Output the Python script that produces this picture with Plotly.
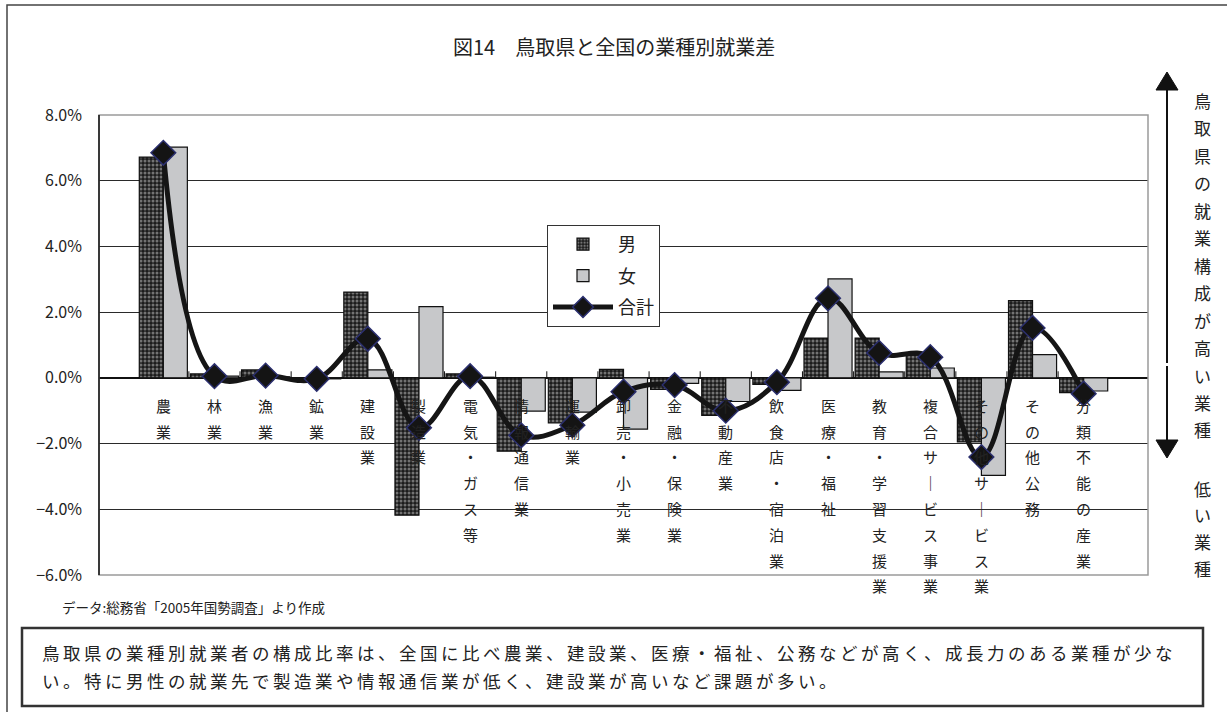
import plotly.graph_objects as go

# ---- data ---------------------------------------------------------------
industries = [
    "農業", "林業", "漁業", "鉱業", "建設業", "製造業", "電気・ガス等",
    "情報通信業", "運輸業", "卸売・小売業", "金融・保険業", "不動産業",
    "飲食店・宿泊業", "医療・福祉", "教育・学習支援業", "複合サービス事業",
    "その他サービス業", "その他公務", "分類不能の産業",
]
male = [6.72, 0.12, 0.24, -0.02, 2.61, -4.18, 0.12, -2.23, -1.37, 0.26,
        -0.35, -1.14, -0.20, 1.21, 1.21, 0.70, -1.95, 2.35, -0.45]
female = [7.02, 0.05, 0.03, -0.03, 0.24, 2.17, 0.02, -1.01, -1.04, -1.56,
          -0.17, -0.72, -0.38, 3.01, 0.18, 0.30, -2.97, 0.71, -0.40]
total = [6.85, 0.05, 0.07, -0.03, 1.19, -1.52, 0.05, -1.75, -1.44, -0.42,
         -0.22, -1.00, -0.13, 2.42, 0.76, 0.63, -2.41, 1.52, -0.48]

y_ticks = [-6, -4, -2, 0, 2, 4, 6, 8]
y_tick_labels = [f"{v:.1f}%".replace("-", "\u2212") for v in y_ticks]

title_text = "図14　鳥取県と全国の業種別就業差"
side_high = "鳥取県の就業構成が高い業種"
side_low = "低い業種"
source_text = "データ:総務省「2005年国勢調査」より作成"
note_lines = [
    "鳥取県の業種別就業者の構成比率は、全国に比べ農業、建設業、医療・福祉、公務などが高く、成長力のある業種が少な",
    "い。特に男性の就業先で製造業や情報通信業が低く、建設業が高いなど課題が多い。",
]

# ---- page geometry (pixels) ----------------------------------------------
W, H = 1227, 712
PL, PR, PT, PB = 99, 1148, 115, 575
FONT = "Noto Sans CJK JP"
THIN = "\u2009"


def fx(x):
    return (x - PL) / (PR - PL)


def fy(y):
    return (PB - y) / (PB - PT)


def spaced(s):
    # widen the character pitch of a line of text
    return THIN.join(s)


fig = go.Figure()

fig.add_trace(go.Bar(
    name="男", x=industries, y=male, legendgroup="m",
    marker=dict(
        color="#1c1c1c",
        line=dict(color="#111111", width=1.2),
        pattern=dict(shape=".", fgcolor="#c9c9c9", bgcolor="#1c1c1c",
                     size=4, solidity=0.45),
    ),
))
fig.add_trace(go.Bar(
    name="女", x=industries, y=female, legendgroup="f",
    marker=dict(color="#c7c8ca", line=dict(color="#111111", width=1.2)),
))
fig.add_trace(go.Scatter(
    name="合計", x=industries, y=total, mode="lines+markers", legendgroup="t",
    line=dict(color="#151515", width=5, shape="spline", smoothing=1.1),
    marker=dict(symbol="diamond", size=19, color="#141414",
                line=dict(color="#2b2f6e", width=1.5)),
))

annotations = []
shapes = []

# vertical category labels, one glyph per row under the zero line
for cat in industries:
    glyphs = list(cat.replace("ー", "｜"))
    for j, ch in enumerate(glyphs):
        annotations.append(dict(
            x=cat, y=0, xref="x", yref="y", text=ch, showarrow=False,
            yshift=-(27.5 + 25.8 * j), yanchor="middle", xanchor="center",
            font=dict(family=FONT, size=15, color="#222222"),
        ))

# small tick marks between categories on the zero line
for k in range(len(industries) - 1):
    shapes.append(dict(type="line", xref="x", yref="y",
                       x0=k + 0.5, x1=k + 0.5, y0=0, y1=0.2,
                       line=dict(color="#111111", width=1)))

# plot area frame (grey) drawn above the grid
shapes.append(dict(type="rect", xref="paper", yref="paper", x0=0, x1=1, y0=0, y1=1,
                   line=dict(color="#9a9a9a", width=1.5), layer="above"))
shapes.append(dict(type="line", xref="paper", yref="paper", x0=0, x1=0, y0=0, y1=1,
                   line=dict(color="#111111", width=1.5), layer="above"))

# outer frame of the figure
shapes.append(dict(type="rect", xref="paper", yref="paper",
                   x0=fx(7), x1=fx(W + 20), y0=fy(H + 20), y1=fy(5),
                   line=dict(color="#444444", width=1.5)))

# side arrows
ax = 1167
shapes.append(dict(type="line", xref="paper", yref="paper",
                   x0=fx(ax), x1=fx(ax), y0=fy(363), y1=fy(88),
                   line=dict(color="#111111", width=2)))
shapes.append(dict(type="path", xref="paper", yref="paper",
                   path=f"M {fx(ax - 11)} {fy(90)} L {fx(ax + 11)} {fy(90)} L {fx(ax)} {fy(72)} Z",
                   fillcolor="#111111", line=dict(color="#111111", width=1)))
shapes.append(dict(type="line", xref="paper", yref="paper",
                   x0=fx(ax), x1=fx(ax), y0=fy(366), y1=fy(442),
                   line=dict(color="#111111", width=2)))
shapes.append(dict(type="path", xref="paper", yref="paper",
                   path=f"M {fx(ax - 11)} {fy(440)} L {fx(ax + 11)} {fy(440)} L {fx(ax)} {fy(458)} Z",
                   fillcolor="#111111", line=dict(color="#111111", width=1)))

# side captions written top to bottom
for j, ch in enumerate(side_high):
    annotations.append(dict(x=fx(1202), y=fy(100 + 27.5 * j), xref="paper", yref="paper",
                            text=ch, showarrow=False, xanchor="center", yanchor="middle",
                            font=dict(family=FONT, size=17, color="#222222")))
for j, ch in enumerate(side_low):
    annotations.append(dict(x=fx(1202), y=fy(488 + 26.7 * j), xref="paper", yref="paper",
                            text=ch, showarrow=False, xanchor="center", yanchor="middle",
                            font=dict(family=FONT, size=17, color="#222222")))

# title
annotations.append(dict(x=fx(614), y=fy(47), xref="paper", yref="paper", text=title_text,
                        showarrow=False, xanchor="center", yanchor="middle",
                        font=dict(family=FONT, size=20, color="#222222")))

# data source
annotations.append(dict(x=fx(60), y=fy(607), xref="paper", yref="paper", text=source_text,
                        showarrow=False, xanchor="left", yanchor="middle",
                        font=dict(family=FONT, size=13.5, color="#222222")))

# commentary box
shapes.append(dict(type="rect", xref="paper", yref="paper",
                   x0=fx(22), x1=fx(1203), y0=fy(706), y1=fy(628),
                   line=dict(color="#333333", width=2.5)))
for j, line in enumerate(note_lines):
    annotations.append(dict(x=fx(40), y=fy(652 + 28 * j), xref="paper", yref="paper",
                            text=spaced(line), showarrow=False, xanchor="left", yanchor="middle",
                            font=dict(family=FONT, size=17.5, color="#222222")))

fig.update_layout(
    width=W, height=H,
    margin=dict(l=PL, r=W - PR, t=PT, b=H - PB),
    paper_bgcolor="white", plot_bgcolor="white",
    barmode="group", bargap=0.06, bargroupgap=0,
    showlegend=True,
    legend=dict(
        x=fx(547), y=fy(225), xanchor="left", yanchor="top",
        bgcolor="white", bordercolor="#333333", borderwidth=1,
        font=dict(family=FONT, size=18, color="#222222"),
        tracegroupgap=5, itemwidth=60,
    ),
    font=dict(family=FONT, color="#222222"),
    annotations=annotations,
    shapes=shapes,
)
fig.update_xaxes(showticklabels=False, showgrid=False, zeroline=False,
                 showline=False, ticks="")
fig.update_yaxes(
    range=[-6, 8], tickmode="array", tickvals=y_ticks, ticktext=y_tick_labels,
    showgrid=True, gridcolor="#2a2a2a", gridwidth=1,
    zeroline=True, zerolinecolor="#111111", zerolinewidth=1.5,
    showline=False, ticks="", ticklabelstandoff=16,
    tickfont=dict(family=FONT, size=16, color="#222222"),
)

fig.write_html("out.html")
